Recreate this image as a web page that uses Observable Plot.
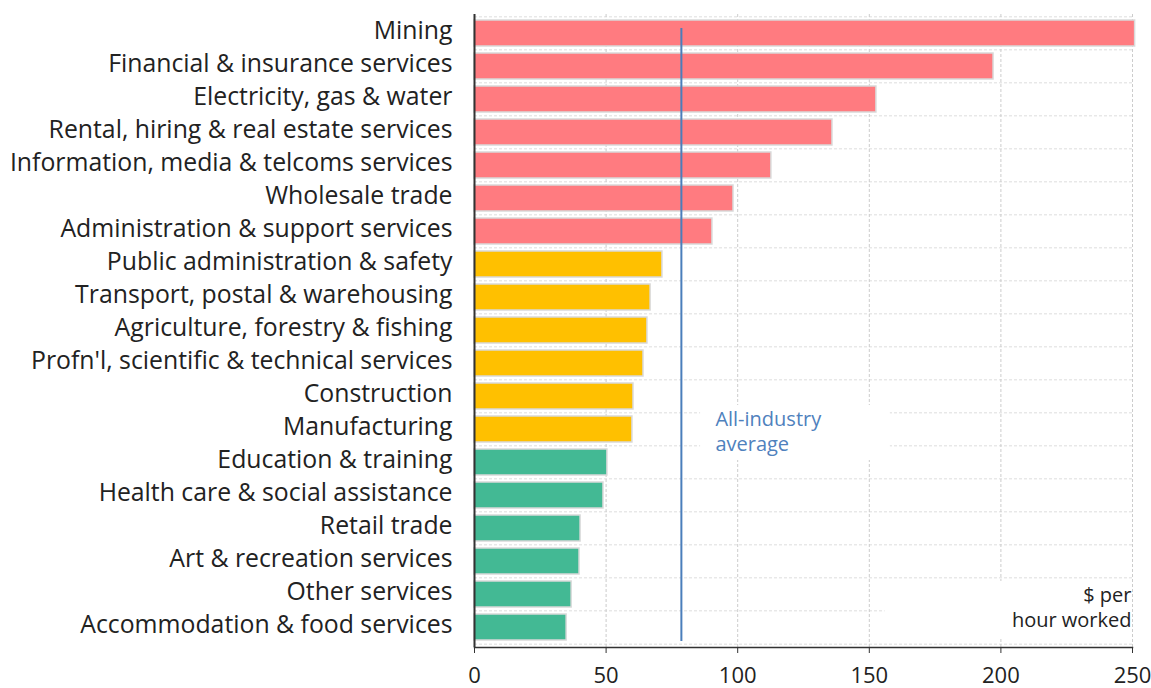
<!DOCTYPE html>
<html>
<head>
<meta charset="utf-8">
<script src="https://cdn.jsdelivr.net/npm/d3@7"></script>
<script src="https://cdn.jsdelivr.net/npm/@observablehq/plot@0.6"></script>
<style>
  body { margin: 0; background: #fff; }
  #chart svg { font-family: "Open Sans", sans-serif; }
</style>
</head>
<body>
<div id="chart"></div>
<script>
const industries = [
  "Mining",
  "Financial & insurance services",
  "Electricity, gas & water",
  "Rental, hiring & real estate services",
  "Information, media & telcoms services",
  "Wholesale trade",
  "Administration & support services",
  "Public administration & safety",
  "Transport, postal & warehousing",
  "Agriculture, forestry & fishing",
  "Profn'l, scientific & technical services",
  "Construction",
  "Manufacturing",
  "Education & training",
  "Health care & social assistance",
  "Retail trade",
  "Art & recreation services",
  "Other services",
  "Accommodation & food services"
];
const values = [251, 197.2, 152.7, 136, 112.8, 98.4, 90.4, 71.4, 66.9, 65.7, 64.2, 60.4, 60, 50.5, 49, 40.3, 39.9, 36.9, 35];
const groups = ["high","high","high","high","high","high","high",
                "mid","mid","mid","mid","mid","mid",
                "low","low","low","low","low","low"];
const groupNames = ["high", "mid", "low"];
const groupColors = ["#ff7b80", "#ffc000", "#43b994"];
const average = 78.6;
const xTicks = [0, 50, 100, 150, 200, 250];
const averageLabel = "All-industry\naverage";
const unitLabel = "$ per\nhour worked";

const data = industries.map((name, i) => ({name, value: values[i], group: groups[i]}));

const W = 1151, H = 688, mt = 14, mb = 41, ml = 474, mr = 19;
const step = (H - mt - mb) / industries.length;

const avgNote = [{x: average, x2: 158, y: "Manufacturing", text: averageLabel}];
const unitNote = [{x: 250, x1: 156, y: "Other services", text: unitLabel}];

const chart = Plot.plot({
  width: W,
  height: H,
  marginTop: mt,
  marginBottom: mb,
  marginLeft: ml,
  marginRight: mr,
  style: {fontSize: "22px", color: "#222", background: "#fff"},
  x: {domain: [0, 250], ticks: xTicks},
  y: {domain: industries, paddingInner: 0.2, paddingOuter: 0.1},
  color: {domain: groupNames, range: groupColors},
  marks: [
    // horizontal dashed gridlines at band boundaries
    Plot.ruleY(industries, {y: d => d, dy: -step / 2, stroke: "#ddd", strokeDasharray: "3,2"}),
    Plot.ruleY(industries.slice(-1), {y: d => d, dy: step / 2, stroke: "#ddd", strokeDasharray: "3,2"}),
    // vertical dashed gridlines
    Plot.gridX(xTicks.slice(1), {stroke: "#ccc", strokeOpacity: 1, strokeDasharray: "3,2"}),
    // white boxes behind annotations
    Plot.barX(avgNote, {x1: d => d.x + 7.3, x2: "x2", y: "y", fill: "white", insetTop: -11, insetBottom: -18}),
    Plot.barX(unitNote, {x1: "x1", x2: "x", y: "y", fill: "white", insetTop: 0, insetBottom: -31}),
    Plot.barX(data, {
      y: "name", x: "value", fill: "group",
      stroke: "#d9d9d9", strokeWidth: 1.5
    }),
    Plot.ruleX([average], {stroke: "#4a7ebb", strokeWidth: 2, insetTop: 14, insetBottom: 6}),
    Plot.text(avgNote, {
      x: "x", y: "y", text: "text", dx: 34, dy: 1,
      textAnchor: "start", lineAnchor: "middle", lineHeight: 1.25,
      fill: "#4f81bd", fontSize: 20
    }),
    Plot.text(unitNote, {
      x: "x", y: "y", text: "text", dx: -1, dy: 12,
      textAnchor: "end", lineAnchor: "middle", lineHeight: 1.25,
      fill: "#222", fontSize: 20
    }),
    Plot.axisY({tickSize: 0, tickPadding: 22, dy: -2, label: null, fontSize: 24.8, fill: "#222"}),
    Plot.axisX({ticks: xTicks, tickSize: 6, tickPadding: 14, label: null, fontSize: 22, fill: "#222", stroke: "#333"}),
    Plot.frame({anchor: "bottom", stroke: "#333", strokeWidth: 1.5}),
    Plot.ruleX([0], {stroke: "#333", strokeWidth: 2})
  ]
});
document.getElementById("chart").appendChild(chart);
</script>
</body>
</html>
